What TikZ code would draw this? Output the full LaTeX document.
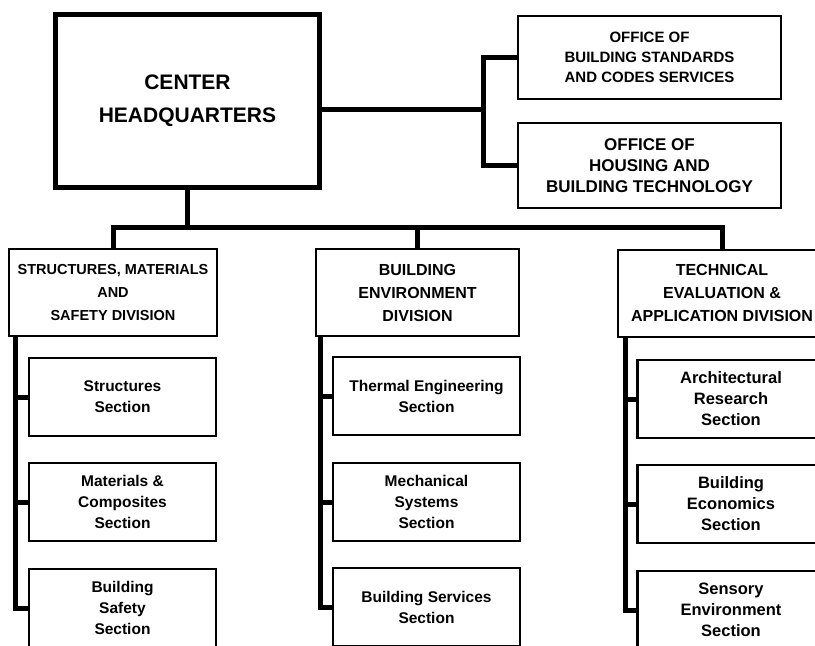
\documentclass[tikz,border=0pt]{standalone}
\usepackage{fontspec}
\setmainfont{Liberation Sans}
\usepackage{tikz}
\usetikzlibrary{positioning}

\begin{document}
\begin{tikzpicture}[x=1pt, y=-1pt, node distance=105pt, on grid,
  hq/.style={draw, line width=4.5pt, minimum width=264pt, minimum height=173pt, align=center, font=\bfseries\fontsize{21}{33}\selectfont},
  office/.style={draw, line width=2.5pt, minimum width=263pt, minimum height=83pt, align=center, font=\bfseries\fontsize{15}{20}\selectfont},
  division/.style={draw, line width=2pt, minimum width=208pt, minimum height=87pt, align=center, font=\bfseries\fontsize{14.5}{23}\selectfont},
  section/.style={draw, line width=2.5pt, minimum width=187pt, minimum height=78pt, align=center, font=\bfseries\fontsize{15.5}{21}\selectfont},
  bar/.style={line width=5pt}]
  \useasboundingbox (0,0) rectangle (815,646);
  \clip (0,0) rectangle (815,646);

  \node[hq] (headquarters) at (187.5,101) {CENTER\\HEADQUARTERS};
  \node[office] (standards) at (649.5,57.5) {OFFICE OF\\BUILDING STANDARDS\\AND CODES SERVICES};
  \node[office, minimum height=85pt, font=\bfseries\fontsize{17}{21}\selectfont] (housing) [below=108pt of standards] {OFFICE OF\\HOUSING AND\\BUILDING TECHNOLOGY};

  \node[division] (structures) at (113,292.5) {STRUCTURES, MATERIALS\\AND\\SAFETY DIVISION};
  \node[division, minimum width=203pt, font=\bfseries\fontsize{16}{23}\selectfont] (environment) at (417.5,292.5) {BUILDING\\ENVIRONMENT\\DIVISION};
  \node[division, font=\bfseries\fontsize{16}{23}\selectfont] (evaluation) at (722,293) {TECHNICAL\\EVALUATION \&\\APPLICATION DIVISION};

  \node[section] (structsec) at (122.5,397) {Structures\\Section};
  \node[section] (matsec) [below=of structsec] {Materials \&\\Composites\\Section};
  \node[section] (safetysec) [below=106pt of matsec] {Building\\Safety\\Section};

  \node[section] (thermal) at (426.5,396) {Thermal Engineering\\Section};
  \node[section] (mechanical) [below=106pt of thermal] {Mechanical\\Systems\\Section};
  \node[section] (services) [below=of mechanical] {Building Services\\Section};

  \node[section, font=\bfseries\fontsize{16.5}{21}\selectfont] (architectural) at (731,399) {Architectural\\Research\\Section};
  \node[section, font=\bfseries\fontsize{16.5}{21}\selectfont] (economics) [below=of architectural] {Building\\Economics\\Section};
  \node[section, font=\bfseries\fontsize{16.5}{21}\selectfont] (sensory) [below=106pt of economics] {Sensory\\Environment\\Section};

  % headquarters to offices
  \coordinate (officebus) at (483,109);
  \draw[bar] (headquarters.east |- officebus) -- (officebus);
  \draw[bar] (standards.west) -| (officebus) |- (housing.west);

  % headquarters to divisions
  \coordinate (divbus) at (0,227);
  \draw[bar] (headquarters.south) -- (headquarters.south |- divbus);
  \draw[bar] (structures.north) -- (structures.north |- divbus) -- (evaluation.north |- divbus) -- (evaluation.north);
  \draw[bar] (environment.north) -- (environment.north |- divbus);

  % divisions to sections
  \coordinate (lbus) at ([xshift=7pt]structures.south west);
  \coordinate (mbus) at ([xshift=5pt]environment.south west);
  \coordinate (rbus) at ([xshift=8pt]evaluation.south west);
  \draw[bar] (lbus) |- (safetysec.west);
  \draw[bar] (mbus) |- (services.west);
  \draw[bar] (rbus) |- (sensory.west);
  \path[bar]
    (structsec.west) edge (structsec.west -| lbus)
    (matsec.west) edge (matsec.west -| lbus)
    (thermal.west) edge (thermal.west -| mbus)
    (mechanical.west) edge (mechanical.west -| mbus)
    (architectural.west) edge (architectural.west -| rbus)
    (economics.west) edge (economics.west -| rbus);
\end{tikzpicture}
\end{document}
